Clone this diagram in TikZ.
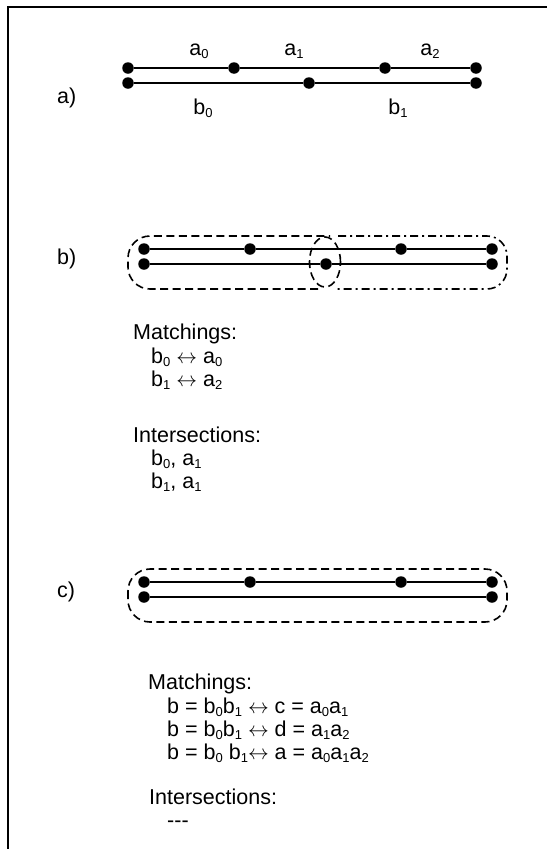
\documentclass[tikz,border=0pt]{standalone}
\usepackage{fontspec}
\setmainfont{Liberation Sans}
% small lowered index digits
\newcommand\sbs[1]{\raisebox{-3pt}{\fontsize{13}{13}\selectfont #1}}
% two-headed matching arrow
\newcommand\mto{$\leftrightarrow$}
\begin{document}
\begin{tikzpicture}[x=1pt,y=-1pt,
  seg/.style={line width=2pt},
  dot/.style={circle,fill=black,inner sep=0pt,minimum size=11.5pt},
  lbl/.style={font=\fontsize{21.5}{24}\selectfont,inner sep=0pt},
  txt/.style={lbl,anchor=base west},
  grpdash/.style={line width=1.6pt,dash pattern=on 8pt off 4.5pt},
  grpdashdot/.style={line width=1.6pt,dash pattern=on 8pt off 4pt on 2pt off 4pt}]
\useasboundingbox (0,0) rectangle (547,849);
% frame
\coordinate (fb) at (8,849);
\coordinate (fc) at (8,7);
\coordinate (fr) at (547,7);
\draw[line width=2.6pt] (fb) -- (fc) -- (fr);

% ---------- a) ----------
\node[txt] (la) at (57,103) {a)};
\node[dot] (at0) at (128,68) {};
\node[dot] (at1) at (234,68) {};
\node[dot] (at2) at (385,68) {};
\node[dot] (at3) at (476,68) {};
\node[dot] (ab0) at (128,83) {};
\node[dot] (ab1) at (309,83) {};
\node[dot] (ab2) at (476,83) {};
\draw[seg] (at0) -- (at1) -- (at2) -- (at3);
\draw[seg] (ab0) -- (ab1) -- (ab2);
\node[lbl,anchor=base] (na0) at (199,55) {a\sbs{0}};
\node[lbl,anchor=base] (na1) at (294,55) {a\sbs{1}};
\node[lbl,anchor=base] (na2) at (430,55) {a\sbs{2}};
\node[lbl,anchor=base] (nb0) at (203,114) {b\sbs{0}};
\node[lbl,anchor=base] (nb1) at (398,114) {b\sbs{1}};

% ---------- b) ----------
\node[txt] (lb) at (57,264) {b)};
\node[dot] (bt0) at (144,249) {};
\node[dot] (bt1) at (250,249) {};
\node[dot] (bt2) at (401,249) {};
\node[dot] (bt3) at (492,249) {};
\node[dot] (bb0) at (144,264) {};
\node[dot] (bb1) at (326,264) {};
\node[dot] (bb2) at (492,264) {};
\draw[seg] (bt0) -- (bt1) -- (bt2) -- (bt3);
\draw[seg] (bb0) -- (bb1) -- (bb2);
\draw[grpdash,rounded corners=22pt] (318,289) -- (128,289) -- (128,236) -- (330,236);
\draw[grpdashdot,rounded corners=20pt] (338,236) -- (507,236) -- (507,289) -- (334,289);
\draw[grpdash] (325,262) ellipse [x radius=15.5pt,y radius=25pt];

\node[txt] (bm) at (133,339) {Matchings:};
\node[txt] (bm1) at (151,363) {b\sbs{0} \mto{} a\sbs{0}};
\node[txt] (bm2) at (151,386) {b\sbs{1} \mto{} a\sbs{2}};
\node[txt] (bi) at (133,442) {Intersections:};
\node[txt] (bi1) at (151,465) {b\sbs{0}, a\sbs{1}};
\node[txt] (bi2) at (151,488) {b\sbs{1}, a\sbs{1}};

% ---------- c) ----------
\node[txt] (lc) at (57,597) {c)};
\node[dot] (ct0) at (144,582) {};
\node[dot] (ct1) at (250,582) {};
\node[dot] (ct2) at (401,582) {};
\node[dot] (ct3) at (492,582) {};
\node[dot] (cb0) at (144,597) {};
\node[dot] (cb1) at (492,597) {};
\draw[seg] (ct0) -- (ct1) -- (ct2) -- (ct3);
\draw[seg] (cb0) -- (cb1);
\draw[grpdash,rounded corners=22pt] (128,569) rectangle (507,622);

\node[txt] (cm) at (148,689) {Matchings:};
\node[txt] (cm1) at (167,713) {b = b\sbs{0}b\sbs{1} \mto{} c = a\sbs{0}a\sbs{1}};
\node[txt] (cm2) at (167,736) {b = b\sbs{0}b\sbs{1} \mto{} d = a\sbs{1}a\sbs{2}};
\node[txt] (cm3) at (167,759) {b = b\sbs{0} b\sbs{1}\mto{} a = a\sbs{0}a\sbs{1}a\sbs{2}};
\node[txt] (ci) at (149,804) {Intersections:};
\node[txt] (ci1) at (167,827) {-\kern0pt-\kern0pt-};
\end{tikzpicture}
\end{document}
